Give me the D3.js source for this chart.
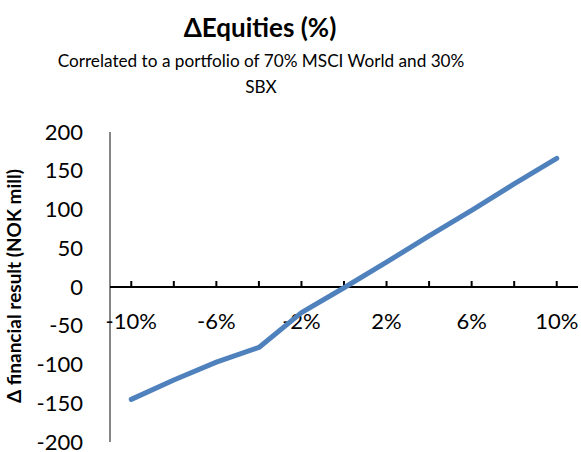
<!DOCTYPE html>
<html>
  <head>
    <script src="https://cdn.jsdelivr.net/npm/d3@7/dist/d3.min.js"></script>
    <style>
      body { margin: 0; background: #fff; }
      text { font-family: Lato, 'Open Sans', sans-serif; }
    </style>
  </head>
  <body>
    <svg width="581" height="452"></svg>
    <script>
      const categories = ['-10%', '-8%', '-6%', '-4%', '-2%', '0%', '2%', '4%', '6%', '8%', '10%'];
      const values = [-145, -120, -97, -78, -33, -1, 32, 66, 99, 133, 166];
      const shownLabels = ['-10%', '-6%', '-2%', '2%', '6%', '10%'];
      const yTicks = [200, 150, 100, 50, 0, -50, -100, -150, -200];
      const title = 'ΔEquities (%)';
      const subtitle = ['Correlated to a portfolio of 70% MSCI World and 30%', 'SBX'];
      const yTitle = 'Δ financial result (NOK mill)';

      const svg = d3.select('svg');
      const plot = {left: 110, right: 578, top: 132, bottom: 442};

      const x = d3.scaleBand()
        .domain(categories)
        .range([plot.left, plot.right]);
      const y = d3.scaleLinear()
        .domain([-200, 200])
        .range([plot.bottom, plot.top]);
      const cx = d => x(d) + x.bandwidth() / 2;

      // titles
      svg.append('text')
        .attr('x', 260).attr('y', 37)
        .attr('text-anchor', 'middle')
        .style('font-size', '26px').style('font-weight', 'bold')
        .text(title);
      svg.selectAll('.sub').data(subtitle).enter().append('text')
        .attr('class', 'sub')
        .attr('x', 261).attr('y', (d, i) => 67 + i * 26)
        .attr('text-anchor', 'middle')
        .style('font-size', '17.2px')
        .text(d => d);

      // y axis
      svg.append('line')
        .attr('x1', plot.left).attr('x2', plot.left)
        .attr('y1', plot.top).attr('y2', plot.bottom)
        .attr('stroke', '#868686').attr('stroke-width', 2);
      svg.selectAll('.ylab').data(yTicks).enter().append('text')
        .attr('class', 'ylab')
        .attr('x', 83).attr('y', d => y(d))
        .attr('dy', '0.35em')
        .attr('text-anchor', 'end')
        .style('font-size', '22px')
        .text(d => d);
      svg.append('text')
        .attr('transform', `translate(21,${(plot.top + plot.bottom) / 2 - 1}) rotate(-90)`)
        .attr('text-anchor', 'middle')
        .style('font-size', '19px').style('font-weight', 'bold')
        .text(yTitle);

      // x axis at zero
      const zeroY = y(0);
      svg.append('line')
        .attr('x1', plot.left).attr('x2', plot.right)
        .attr('y1', zeroY).attr('y2', zeroY)
        .attr('stroke', '#000').attr('stroke-width', 2);
      svg.selectAll('.xtick').data(categories).enter().append('line')
        .attr('class', 'xtick')
        .attr('x1', d => cx(d)).attr('x2', d => cx(d))
        .attr('y1', zeroY).attr('y2', zeroY - 6)
        .attr('stroke', '#000').attr('stroke-width', 2);
      svg.selectAll('.xlab').data(shownLabels).enter().append('text')
        .attr('class', 'xlab')
        .attr('x', d => cx(d)).attr('y', zeroY + 42)
        .attr('text-anchor', 'middle')
        .style('font-size', '22px')
        .text(d => d);

      // line
      const line = d3.line()
        .x((d, i) => cx(categories[i]))
        .y(d => y(d));
      svg.append('path')
        .datum(values)
        .attr('d', line)
        .attr('fill', 'none')
        .attr('stroke', '#4F81BD')
        .attr('stroke-width', 5)
        .attr('stroke-linecap', 'round')
        .attr('stroke-linejoin', 'round');
    </script>
  </body>
</html>
